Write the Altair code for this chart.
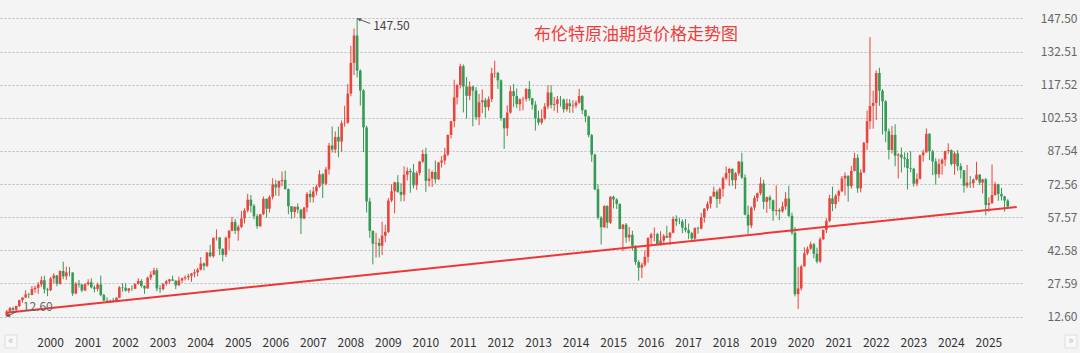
import altair as alt
import pandas as pd

# ---------------- data (monthly Brent OHLC) ----------------
START_MONTH = "1999-03-01"

OPEN = [
    12.9, 14.9, 16.4, 15.6, 17.3, 20.0, 21.2, 22.6, 22.4, 25.0,
    25.6, 27.1, 29.0, 24.9, 24.5, 29.8, 31.2, 27.4, 33.2, 30.8, 32.6, 32.5,
    23.0, 27.4, 27.0, 24.4, 27.2, 28.1, 25.8, 25.1, 27.1, 22.3, 19.8, 18.9,
    19.8, 19.4, 21.1, 25.8, 25.6, 24.3, 25.3, 25.2, 27.4, 28.7, 26.4, 25.3,
    30.2, 31.6, 33.5, 25.3, 25.0, 27.4, 28.5, 29.4, 28.8, 26.7, 28.9, 29.9,
    30.4, 31.0, 32.0, 32.6, 33.8, 36.6, 35.5, 41.6, 39.9, 48.2, 48.4, 43.2,
    40.5, 48.2, 51.4, 55.4, 51.4, 53.1, 57.0, 60.6, 65.5, 62.7, 58.0, 53.5,
    58.9, 65.9, 61.4, 66.7, 72.4, 71.0, 73.9, 74.4, 70.3, 62.5, 59.9, 62.3,
    61.0, 57.0, 61.9, 68.1, 66.6, 69.2, 71.4, 77.0, 72.7, 79.2, 90.0, 88.2,
    93.9, 91.8, 100.1, 100.3, 113.5, 127.4, 139.8, 123.9, 114.9, 98.2, 64.7, 51.4,
    45.6, 45.9, 44.6, 49.2, 50.9, 65.1, 69.3, 73.3, 69.0, 67.7, 76.8, 78.5,
    77.9, 72.0, 77.6, 82.7, 86.2, 74.0, 75.0, 78.0, 74.7, 82.3, 83.2, 85.9,
    94.8, 101.0, 111.8, 117.4, 125.9, 116.7, 112.5, 116.7, 114.9, 102.8, 109.6, 110.5,
    107.4, 111.0, 122.7, 122.9, 119.5, 102.4, 97.8, 104.9, 114.6, 112.4, 108.7, 110.9,
    111.1, 115.6, 111.4, 108.5, 102.4, 100.4, 102.2, 107.7, 114.0, 108.4, 108.8, 110.9,
    110.8, 106.4, 109.1, 107.8, 108.1, 109.4, 112.4, 106.0, 103.2, 94.7, 85.9, 70.2,
    57.3, 53.0, 62.6, 55.1, 66.8, 65.6, 63.6, 52.2, 54.2, 48.4, 49.6, 44.6,
    37.3, 34.7, 36.0, 39.6, 48.1, 49.7, 49.9, 44.9, 47.0, 49.1, 48.3, 50.5,
    56.8, 55.7, 55.6, 52.8, 51.7, 50.3, 47.9, 52.7, 52.4, 57.5, 61.4, 63.6,
    66.9, 69.1, 65.8, 70.3, 75.2, 77.6, 79.4, 74.3, 77.4, 82.7, 75.5, 58.7,
    53.8, 61.9, 66.3, 68.4, 72.8, 64.5, 66.6, 65.2, 60.4, 60.8, 60.2, 62.4,
    66.0, 58.2, 50.5, 22.7, 25.3, 35.3, 41.2, 43.3, 45.3, 41.0, 37.5, 47.6,
    51.8, 55.9, 66.1, 63.5, 67.3, 69.3, 75.1, 76.3, 71.6, 78.5, 84.4, 70.6,
    77.8, 91.2, 101.0, 107.9, 109.3, 122.8, 114.8, 110.0, 96.5, 88.0, 94.8, 85.4,
    85.9, 84.5, 83.9, 79.8, 79.5, 72.7, 74.9, 85.6, 86.9, 95.3, 87.4, 82.8,
    77.0, 81.7, 83.6, 87.5, 87.9, 81.6, 86.4, 80.7, 78.8, 71.8, 73.2, 72.9,
    74.6, 76.8, 73.2, 74.7, 63.1, 63.9, 67.6, 72.5, 68.1, 67.0, 65.1,
]

HIGH = [
    15.6, 16.9, 17.0, 17.5, 20.2, 21.3, 24.5, 23.3, 26.4, 26.5,
    28.1, 30.8, 31.1, 25.6, 30.5, 32.2, 31.4, 33.5, 37.4, 35.2, 35.0, 32.6,
    28.2, 29.1, 27.3, 27.6, 29.5, 29.9, 26.7, 27.9, 31.1, 22.9, 21.3, 20.2,
    21.0, 21.3, 26.4, 27.7, 27.6, 25.5, 26.7, 27.5, 29.9, 29.5, 26.7, 30.6,
    33.1, 34.7, 34.6, 26.8, 27.7, 29.2, 29.6, 31.1, 29.0, 30.6, 30.2, 31.2,
    32.0, 32.3, 34.0, 34.6, 39.5, 37.0, 41.7, 45.0, 48.3, 52.0, 48.5, 43.5,
    48.8, 51.7, 57.7, 56.8, 54.0, 60.4, 61.6, 68.1, 67.6, 63.5, 58.9, 59.0,
    66.9, 66.0, 67.5, 75.2, 74.5, 74.2, 78.2, 78.6, 70.5, 62.6, 62.3, 63.8,
    61.2, 62.2, 69.0, 69.9, 71.2, 72.3, 78.8, 77.5, 80.3, 91.2, 98.6, 96.4,
    98.5, 101.3, 108.0, 117.8, 135.1, 143.0, 147.5, 124.5, 115.5, 99.0, 66.3, 51.5,
    50.5, 48.0, 55.5, 54.1, 66.2, 72.5, 73.6, 76.6, 72.9, 80.6, 80.1, 79.6,
    81.6, 78.4, 83.0, 88.1, 89.0, 79.5, 78.7, 83.2, 82.6, 85.2, 89.0, 95.0,
    101.2, 119.8, 117.8, 127.0, 126.7, 121.0, 119.0, 117.0, 116.4, 113.3, 115.4, 111.6,
    112.2, 125.2, 128.4, 123.4, 119.9, 102.5, 108.2, 117.0, 117.9, 115.8, 111.4, 112.1,
    116.0, 119.2, 111.6, 110.0, 105.8, 106.4, 109.2, 117.3, 117.3, 112.0, 112.4, 112.4,
    111.2, 111.2, 111.0, 110.5, 110.4, 115.7, 112.8, 106.4, 103.5, 95.2, 86.3, 72.4,
    58.0, 63.0, 63.0, 67.1, 67.3, 66.1, 63.7, 54.5, 54.9, 53.1, 51.4, 44.8,
    38.1, 37.0, 42.5, 48.5, 50.5, 52.9, 50.5, 51.2, 49.9, 53.7, 50.9, 57.9,
    58.4, 57.3, 56.5, 56.7, 54.7, 50.9, 52.9, 53.3, 59.5, 61.7, 64.7, 67.1,
    71.3, 70.0, 71.1, 75.9, 80.5, 79.9, 79.6, 78.0, 83.0, 86.7, 76.9, 62.8,
    62.5, 67.4, 68.7, 75.6, 74.5, 66.9, 67.5, 65.5, 71.95, 61.6, 64.6, 68.9,
    71.8, 59.7, 53.1, 35.0, 36.0, 43.9, 44.3, 46.5, 45.9, 43.8, 48.5, 52.0,
    57.0, 67.7, 71.4, 68.1, 70.0, 76.2, 77.8, 76.5, 80.8, 86.7, 86.0, 79.2,
    91.7, 105.8, 139.1, 114.8, 124.0, 125.2, 115.5, 110.5, 97.7, 98.8, 99.6, 86.6,
    89.1, 86.9, 86.8, 87.5, 79.9, 77.4, 85.9, 88.1, 97.7, 95.6, 88.0, 84.2,
    84.0, 84.2, 87.6, 91.0, 88.2, 87.3, 87.9, 82.0, 78.9, 81.2, 76.2, 75.0,
    82.6, 77.1, 74.9, 75.3, 66.5, 81.4, 73.6, 72.7, 70.8, 67.2, 65.7,
]

LOW = [
    12.6, 14.6, 14.9, 14.9, 16.9, 18.9, 20.9, 20.9, 22.2, 23.3,
    22.9, 26.0, 23.0, 21.8, 24.0, 27.6, 26.3, 27.0, 29.5, 29.2, 30.8, 21.9,
    22.7, 25.7, 23.6, 24.1, 26.5, 25.3, 23.5, 24.0, 21.8, 19.6, 18.7, 18.9,
    18.9, 19.0, 20.9, 23.8, 23.9, 23.3, 24.2, 24.9, 27.0, 25.7, 22.9, 25.2,
    29.1, 31.3, 24.0, 23.3, 24.4, 26.6, 27.4, 28.7, 25.0, 26.6, 27.8, 28.9,
    29.1, 28.3, 30.3, 30.8, 33.4, 33.4, 35.0, 39.4, 39.2, 47.0, 40.4, 37.5,
    39.5, 42.8, 51.2, 49.9, 46.9, 52.6, 54.7, 59.7, 59.7, 56.6, 52.3, 53.1,
    58.5, 57.4, 59.6, 65.6, 67.3, 67.1, 71.6, 70.0, 58.9, 56.9, 57.3, 59.3,
    49.9, 56.6, 59.8, 64.2, 64.2, 67.4, 70.9, 66.2, 72.0, 76.9, 86.8, 86.6,
    84.7, 87.0, 98.5, 99.9, 112.3, 121.9, 120.8, 108.1, 87.0, 59.7, 48.2, 36.2,
    39.3, 39.4, 40.4, 46.2, 50.4, 64.3, 59.3, 68.6, 64.7, 64.8, 74.2, 68.6,
    70.6, 69.9, 76.5, 82.2, 69.0, 71.4, 71.2, 72.8, 74.4, 80.0, 81.3, 85.1,
    93.2, 98.2, 108.6, 115.8, 105.0, 102.2, 110.5, 98.7, 101.5, 99.2, 104.6, 102.6,
    105.8, 109.7, 120.7, 115.6, 101.2, 88.5, 94.3, 104.4, 107.4, 107.0, 105.7, 105.9,
    109.9, 110.3, 106.3, 96.8, 99.2, 99.5, 101.7, 106.5, 106.8, 105.7, 104.8, 107.6,
    104.9, 105.4, 104.8, 104.8, 106.9, 108.9, 104.2, 100.5, 93.7, 82.6, 69.8, 56.5,
    45.2, 52.7, 52.5, 54.5, 61.5, 61.3, 52.1, 42.2, 46.0, 46.6, 42.5, 36.0,
    28.8, 30.0, 35.2, 37.0, 45.3, 46.6, 44.8, 44.7, 45.1, 48.1, 45.0, 50.2,
    53.6, 54.4, 50.3, 50.7, 47.6, 46.3, 46.6, 50.1, 52.0, 55.1, 60.4, 61.5,
    66.6, 61.8, 63.6, 66.8, 74.3, 71.7, 71.8, 70.3, 76.4, 74.8, 58.4, 50.0,
    52.6, 60.6, 64.6, 67.5, 61.2, 59.5, 61.3, 55.9, 58.3, 56.2, 59.6, 60.9,
    57.7, 49.5, 21.7, 16.0, 24.3, 35.2, 40.4, 42.8, 38.9, 36.6, 36.8, 47.2,
    50.4, 55.3, 60.3, 61.5, 64.6, 68.8, 67.4, 64.6, 70.5, 78.3, 68.6, 68.8,
    77.7, 88.0, 97.4, 97.6, 101.5, 108.0, 95.0, 91.5, 83.7, 86.4, 80.6, 75.1,
    77.8, 80.1, 70.1, 77.9, 71.4, 71.6, 74.6, 82.7, 86.7, 83.4, 76.6, 72.3,
    75.3, 76.8, 80.7, 86.2, 80.9, 76.8, 78.6, 75.1, 68.7, 70.7, 70.8, 70.8,
    74.2, 72.1, 68.3, 58.4, 60.0, 63.5, 67.2, 65.0, 65.1, 60.1, 61.5,
]

CLOSE = [
    14.9, 16.4, 15.6, 17.3, 20.0, 21.2, 22.6, 22.4, 25.0, 25.6,
    27.1, 29.0, 24.9, 24.5, 29.8, 31.2, 27.4, 33.2, 30.8, 32.6, 32.5, 23.0,
    27.4, 27.0, 24.4, 27.2, 28.1, 25.8, 25.1, 27.1, 22.3, 19.8, 18.9, 19.8,
    19.4, 21.1, 25.8, 25.6, 24.3, 25.3, 25.2, 27.4, 28.7, 26.4, 25.3, 30.2,
    31.6, 33.5, 25.3, 25.0, 27.4, 28.5, 29.4, 28.8, 26.7, 28.9, 29.9, 30.4,
    31.0, 32.0, 32.6, 33.8, 36.6, 35.5, 41.6, 39.9, 48.2, 48.4, 43.2, 40.5,
    48.2, 51.4, 55.4, 51.4, 53.1, 57.0, 60.6, 65.5, 62.7, 58.0, 53.5, 58.9,
    65.9, 61.4, 66.7, 72.4, 71.0, 73.9, 74.4, 70.3, 62.5, 59.9, 62.3, 61.0,
    57.0, 61.9, 68.1, 66.6, 69.2, 71.4, 77.0, 72.7, 79.2, 90.0, 88.2, 93.9,
    91.8, 100.1, 100.3, 113.5, 127.4, 139.8, 123.9, 114.9, 98.2, 64.7, 51.4, 45.6,
    45.9, 44.6, 49.2, 50.9, 65.1, 69.3, 73.3, 69.0, 67.7, 76.8, 78.5, 77.9,
    72.0, 77.6, 82.7, 86.2, 74.0, 75.0, 78.0, 74.7, 82.3, 83.2, 85.9, 94.8,
    101.0, 111.8, 117.4, 125.9, 116.7, 112.5, 116.7, 114.9, 102.8, 109.6, 110.5, 107.4,
    111.0, 122.7, 122.9, 119.5, 102.4, 97.8, 104.9, 114.6, 112.4, 108.7, 110.9, 111.1,
    115.6, 111.4, 108.5, 102.4, 100.4, 102.2, 107.7, 114.0, 108.4, 108.8, 110.9, 110.8,
    106.4, 109.1, 107.8, 108.1, 109.4, 112.4, 106.0, 103.2, 94.7, 85.9, 70.2, 57.3,
    53.0, 62.6, 55.1, 66.8, 65.6, 63.6, 52.2, 54.2, 48.4, 49.6, 44.6, 37.3,
    34.7, 36.0, 39.6, 48.1, 49.7, 49.9, 44.9, 47.0, 49.1, 48.3, 50.5, 56.8,
    55.7, 55.6, 52.8, 51.7, 50.3, 47.9, 52.7, 52.4, 57.5, 61.4, 63.6, 66.9,
    69.1, 65.8, 70.3, 75.2, 77.6, 79.4, 74.3, 77.4, 82.7, 75.5, 58.7, 53.8,
    61.9, 66.3, 68.4, 72.8, 64.5, 66.6, 65.2, 60.4, 60.8, 60.2, 62.4, 66.0,
    58.2, 50.5, 22.7, 25.3, 35.3, 41.2, 43.3, 45.3, 41.0, 37.5, 47.6, 51.8,
    55.9, 66.1, 63.5, 67.3, 69.3, 75.1, 76.3, 71.6, 78.5, 84.4, 70.6, 77.8,
    91.2, 101.0, 107.9, 109.3, 122.8, 114.8, 110.0, 96.5, 88.0, 94.8, 85.4, 85.9,
    84.5, 83.9, 79.8, 79.5, 72.7, 74.9, 85.6, 86.9, 95.3, 87.4, 82.8, 77.0,
    81.7, 83.6, 87.5, 87.9, 81.6, 86.4, 80.7, 78.8, 71.8, 73.2, 72.9, 74.6,
    76.8, 73.2, 74.7, 63.1, 63.9, 67.6, 72.5, 68.1, 67.0, 65.1, 62.4,
]

# red support line (two end points)
TREND_DATES = ["1999-03-08", "2026-02-10"]
TREND_VALUES = [14.3, 62.2]

X_TICK_YEARS = [2000, 2001, 2002, 2003, 2004, 2005, 2006, 2007, 2008, 2009,
                2010, 2011, 2012, 2013, 2014, 2015, 2016, 2017, 2018, 2019,
                2020, 2021, 2022, 2023, 2024, 2025]
Y_TICKS = [12.60, 27.59, 42.58, 57.57, 72.56, 87.54, 102.53, 117.52, 132.51, 147.50]

TITLE = "布伦特原油期货价格走势图"

# ---------------- styling ----------------
FONT = "Noto Sans CJK SC"
RED = "#e8463c"
GREEN = "#359a55"
LINE_RED = "#f03535"
BG = "#f4f4f4"
W, H = 1022, 330

assert len(OPEN) == len(HIGH) == len(LOW) == len(CLOSE)
dates = (pd.date_range(START_MONTH, periods=len(CLOSE), freq="MS")
         + pd.Timedelta(days=14)).strftime("%Y-%m-%d").tolist()
df = pd.DataFrame({"date": dates, "open": OPEN, "high": HIGH, "low": LOW, "close": CLOSE})

xscale = alt.Scale(domain=[alt.DateTime(year=1999, month=2, date=26),
                           alt.DateTime(year=2026, month=2, date=13)])
yscale = alt.Scale(domain=[6.49, 155.87], nice=False, zero=False)

x_axis = alt.Axis(values=[alt.DateTime(year=y, month=1, date=1) for y in X_TICK_YEARS],
                  tickCount=60,
                  format="%Y", labelAlign="left", labelOffset=0, labelPadding=7,
                  ticks=False, tickSize=0, domain=False, grid=False, title=None,
                  labelFont=FONT, labelFontSize=12, labelColor="#333333",
                  labelOverlap=False, labelFlush=False)
y_axis = alt.Axis(orient="right", values=Y_TICKS, tickCount=40, format=".2f",
                  labelAlign="right",
                  labelPadding=55, ticks=False, tickSize=0, domain=False, grid=True,
                  gridColor="#bdbdbd", gridDash=[2, 2], gridWidth=1, title=None,
                  labelFont=FONT, labelFontSize=12, labelColor="#666666",
                  labelOverlap=False, labelBound=False, labelFlush=False)

color = alt.condition("datum.close >= datum.open", alt.value(RED), alt.value(GREEN))

base = alt.Chart(df)
wicks = base.mark_rule(strokeWidth=1).encode(
    x=alt.X("date:T", scale=xscale, axis=x_axis),
    y=alt.Y("low:Q", scale=yscale, axis=y_axis),
    y2="high:Q",
    color=color,
)
bodies = base.mark_bar(width=2.6).encode(
    x=alt.X("date:T", scale=xscale),
    y=alt.Y("open:Q", scale=yscale),
    y2="close:Q",
    color=color,
)

trend_df = pd.DataFrame({"date": TREND_DATES, "value": TREND_VALUES})
trend = alt.Chart(trend_df).mark_line(color=LINE_RED, strokeWidth=2).encode(
    x=alt.X("date:T", scale=xscale),
    y=alt.Y("value:Q", scale=yscale),
)

# annotations for the max high and min low
hi_row = df.loc[df["high"].idxmax()]
lo_row = df.loc[df["low"].idxmin()]
hi_df = pd.DataFrame({"date": [hi_row["date"]], "value": [hi_row["high"]],
                      "label": [f"{hi_row['high']:.2f}"]})
lo_df = pd.DataFrame({"date": [lo_row["date"]], "value": [lo_row["low"]],
                      "label": [f"{lo_row['low']:.2f}"]})


def annotation(d, dx, dy, ax, ay, angle, txt_color):
    enc = dict(x=alt.X("date:T", scale=xscale), y=alt.Y("value:Q", scale=yscale))
    c = alt.Chart(d)
    text = c.mark_text(align="left", baseline="middle", dx=dx, dy=dy, font=FONT,
                       fontSize=12, color=txt_color).encode(text="label:N", **enc)
    rule = c.mark_rule(color="#555555", strokeWidth=1, x2Offset=ax, y2Offset=ay).encode(
        x2="date:T", y2="value:Q", **enc)
    head = c.mark_point(shape="triangle", filled=True, size=16, angle=angle,
                        color="#555555", opacity=1,
                        xOffset=ax * 0.2, yOffset=ay * 0.2).encode(**enc)
    return [rule, head, text]


hi_layers = annotation(hi_df, 16, 8, 13, 5, 294, "#444444")
lo_layers = annotation(lo_df, 16, -10, 10, -5, 243, "#666666")

title = alt.Chart(pd.DataFrame({"t": [TITLE]})).mark_text(
    font=FONT, fontSize=17, color="#f03c3c", align="center", baseline="middle"
).encode(x=alt.value(636), y=alt.value(35), text="t:N")

btn_df = pd.DataFrame({"t": ["«"]})
btn_box_l = alt.Chart(btn_df).mark_rect(fill="#f8f8f8", stroke="#dddddd", strokeWidth=1).encode(
    x=alt.value(5), x2=alt.value(17), y=alt.value(335), y2=alt.value(348))
btn_l = alt.Chart(btn_df).mark_text(font=FONT, fontSize=11, color="#bbbbbb",
                                    align="center", baseline="middle").encode(
    x=alt.value(11), y=alt.value(341), text="t:N")
btn_df_r = pd.DataFrame({"t": ["»"]})
btn_box_r = alt.Chart(btn_df_r).mark_rect(fill="#f8f8f8", stroke="#dddddd", strokeWidth=1).encode(
    x=alt.value(1065), x2=alt.value(1077), y=alt.value(335), y2=alt.value(348))
btn_r = alt.Chart(btn_df_r).mark_text(font=FONT, fontSize=11, color="#bbbbbb",
                                      align="center", baseline="middle").encode(
    x=alt.value(1071), y=alt.value(341), text="t:N")

chart = alt.layer(
    wicks, bodies, trend, *hi_layers, *lo_layers, title,
    btn_box_l, btn_l, btn_box_r, btn_r,
).properties(
    width=W, height=H, background=BG,
    padding={"left": 0, "top": 0, "right": 2, "bottom": 4},
).configure_view(stroke=None).configure_text(font=FONT)

chart.save("out.html", embed_options={"renderer": "svg", "actions": False})
